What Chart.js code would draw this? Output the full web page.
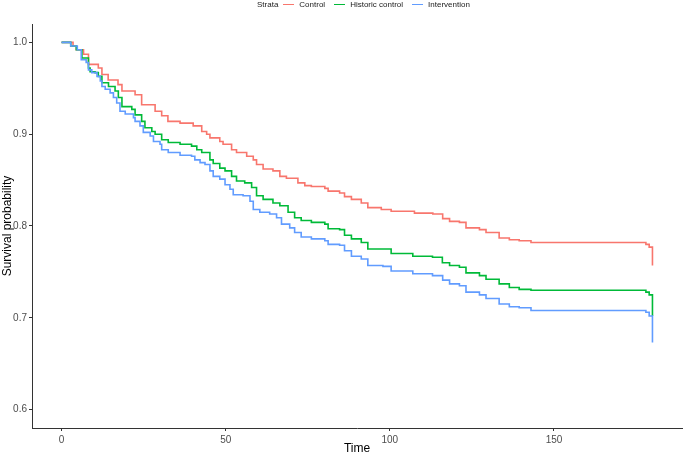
<!DOCTYPE html>
<html>
<head>
<meta charset="utf-8">
<script src="https://cdn.jsdelivr.net/npm/chart.js@4/dist/chart.umd.min.js"></script>
<style>
  html, body { margin: 0; padding: 0; background: #fff; }
  #wrap { position: relative; width: 685px; height: 456px; }
  #legend { position: absolute; top: 0; left: 257px; height: 9px; display: flex; align-items: center;
            font-family: 'Liberation Sans', Arial, sans-serif; font-size: 8px; line-height: 9px; color: #1a1a1a; white-space: nowrap; }
  #legend .key { display: inline-block; width: 11px; height: 1.5px; margin: 0 5px 0 5px; }
  #legend .lab { margin-right: 4px; }
</style>
</head>
<body>
<div id="wrap">
  <canvas id="c" width="685" height="456"></canvas>
  <div id="legend"></div>
</div>
<script>
// ---- data ----
const legendTitle = 'Strata';
const strata = ['Control', 'Historic control', 'Intervention'];
const colors = ['#F8766D', '#00BA38', '#619CFF'];

const xTicks = [0, 50, 100, 150];
const yTicks = [0.6, 0.7, 0.8, 0.9, 1.0];

const controlTime = [0, 3.5, 4.5, 6.7, 8.2, 11.2, 12.3, 14.2, 17.2, 18.4, 22.4, 24.4, 28.5, 30.5, 32.4, 36.1, 40.1, 42.7, 44.2, 45.2, 48.2, 49.2, 51.8, 53.3, 56.4, 58.4, 59.4, 61.4, 64.4, 66.5, 68.5, 72, 74.1, 76.1, 80.2, 81.2, 84.7, 86.2, 88.3, 91.3, 93.3, 97.4, 100.4, 107.5, 113.1, 116.1, 118.2, 121.2, 123.2, 127.3, 129.3, 133.3, 136.4, 139.4, 143, 178, 179, 180];
const controlSurv = [1, 0.996, 0.992, 0.987, 0.976, 0.972, 0.965, 0.959, 0.954, 0.947, 0.943, 0.932, 0.925, 0.920, 0.914, 0.912, 0.909, 0.903, 0.900, 0.896, 0.892, 0.889, 0.883, 0.880, 0.876, 0.872, 0.867, 0.862, 0.860, 0.854, 0.852, 0.847, 0.844, 0.843, 0.841, 0.838, 0.836, 0.832, 0.829, 0.825, 0.820, 0.818, 0.816, 0.814, 0.813, 0.808, 0.805, 0.804, 0.798, 0.796, 0.793, 0.787, 0.785, 0.784, 0.782, 0.780, 0.777, 0.757];

const historicTime = [0, 2.8, 4.5, 6.2, 8.2, 8.7, 10.2, 11.2, 12.3, 14.3, 16.3, 17.3, 18.4, 21.4, 22.4, 24.4, 25.4, 27.5, 28.5, 30.5, 32.5, 36.1, 39.6, 41.2, 42.7, 45.2, 46.2, 48.2, 49.8, 51.8, 53.3, 55.8, 57.9, 59.4, 61.4, 64.4, 66.5, 69, 71, 73, 76.1, 80.2, 81.2, 84.7, 86.2, 88.3, 91.3, 93.3, 100.4, 107, 113, 116, 118.2, 121.2, 123.2, 127.3, 129.3, 133.3, 136.4, 139.4, 143, 178, 179, 180];
const historicSurv = [1, 0.996, 0.992, 0.983, 0.972, 0.968, 0.967, 0.963, 0.956, 0.952, 0.947, 0.940, 0.930, 0.927, 0.921, 0.914, 0.907, 0.903, 0.900, 0.894, 0.891, 0.889, 0.887, 0.883, 0.880, 0.872, 0.868, 0.863, 0.860, 0.854, 0.849, 0.847, 0.842, 0.833, 0.829, 0.825, 0.822, 0.815, 0.809, 0.806, 0.804, 0.802, 0.797, 0.796, 0.790, 0.786, 0.782, 0.775, 0.770, 0.767, 0.766, 0.760, 0.757, 0.755, 0.749, 0.746, 0.742, 0.737, 0.733, 0.731, 0.730, 0.728, 0.725, 0.702];

const interventionTime = [0, 2.8, 4.8, 6.0, 7.5, 8.2, 9.2, 10.8, 11.8, 12.3, 13.3, 14.8, 15.8, 16.8, 17.8, 19.4, 21.9, 22.4, 23.9, 24.9, 27, 28, 30, 30.5, 32.5, 36.1, 39.6, 40.6, 42.2, 43.7, 45.2, 46.2, 48.2, 49.8, 51.3, 52.3, 55.3, 57.4, 58.4, 60.4, 63.4, 65.5, 67, 69.5, 71, 73, 76.1, 80.2, 81.2, 84.7, 86.2, 88.3, 91.3, 93.3, 97.9, 100.4, 107, 113, 116.1, 118.2, 121.2, 123.2, 127.3, 129.3, 133.3, 136.4, 139.4, 143, 178, 179, 180];
const interventionSurv = [1, 0.996, 0.992, 0.981, 0.978, 0.970, 0.967, 0.963, 0.958, 0.952, 0.949, 0.945, 0.940, 0.934, 0.925, 0.922, 0.918, 0.914, 0.909, 0.902, 0.898, 0.892, 0.889, 0.883, 0.880, 0.877, 0.876, 0.872, 0.869, 0.867, 0.860, 0.854, 0.851, 0.845, 0.840, 0.834, 0.833, 0.827, 0.818, 0.815, 0.813, 0.809, 0.802, 0.798, 0.793, 0.788, 0.786, 0.784, 0.780, 0.779, 0.773, 0.767, 0.764, 0.757, 0.756, 0.751, 0.748, 0.746, 0.741, 0.737, 0.735, 0.728, 0.725, 0.721, 0.715, 0.712, 0.711, 0.708, 0.706, 0.702, 0.673];

// ---- build ----
const times = [controlTime, historicTime, interventionTime];
const survs = [controlSurv, historicSurv, interventionSurv];

const lg = document.getElementById('legend');
const t0 = document.createElement('span'); t0.textContent = legendTitle; lg.appendChild(t0);
strata.forEach((s, i) => {
  const k = document.createElement('span'); k.className = 'key'; k.style.background = colors[i]; lg.appendChild(k);
  const l = document.createElement('span'); l.className = 'lab'; l.textContent = s; lg.appendChild(l);
});

Chart.defaults.font.family = "'Liberation Sans', Arial, sans-serif";

const datasets = strata.map((s, i) => ({
  label: s,
  data: times[i].map((t, j) => ({ x: t, y: survs[i][j] })),
  borderColor: colors[i],
  backgroundColor: colors[i],
  borderWidth: 1.6,
  stepped: 'before',
  pointRadius: 0,
  fill: false,
  order: 2 - i
}));

new Chart(document.getElementById('c'), {
  type: 'line',
  data: { datasets },
  options: {
    responsive: false,
    animation: false,
    devicePixelRatio: 1,
    layout: { padding: { top: 24, right: 3, left: 0, bottom: 0 } },
    plugins: { legend: { display: false }, tooltip: { enabled: false } },
    scales: {
      x: {
        type: 'linear', min: -9, max: 189,
        afterBuildTicks: s => { s.ticks = xTicks.map(v => ({ value: v })); },
        afterFit: s => { s.height = 28; },
        ticks: { font: { size: 10 }, color: '#4d4d4d', padding: 3, maxRotation: 0, autoSkip: false,
                 callback: v => String(v) },
        grid: { drawOnChartArea: false, drawTicks: true, tickLength: 3, color: '#333' },
        border: { display: true, color: '#333', width: 1 },
        title: { display: true, text: 'Time', font: { size: 12 }, color: '#000', padding: 0 }
      },
      y: {
        type: 'linear', min: 0.58, max: 1.02,
        afterBuildTicks: s => { s.ticks = yTicks.map(v => ({ value: v })); },
        afterFit: s => { s.width = 32; },
        ticks: { font: { size: 10 }, color: '#4d4d4d', padding: 2, autoSkip: false,
                 callback: v => Number(v).toFixed(1) },
        grid: { drawOnChartArea: false, drawTicks: true, tickLength: 3, color: '#333' },
        border: { display: true, color: '#333', width: 1 },
        title: { display: true, text: 'Survival probability', font: { size: 12 }, color: '#000', padding: 0 }
      }
    }
  }
});
</script>
</body>
</html>
